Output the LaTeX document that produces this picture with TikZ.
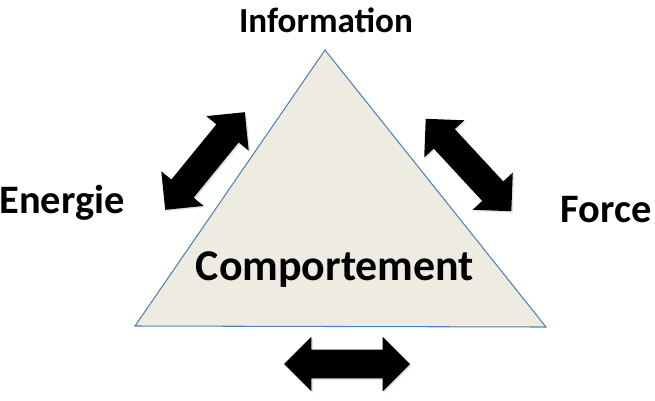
\documentclass[tikz,border=0pt]{standalone}
\usepackage{fontspec}
\setmainfont{Carlito}
\usetikzlibrary{shapes.arrows,shadows}
\definecolor{triFill}{HTML}{EEECE1}
\definecolor{triLine}{HTML}{4F81BD}
\tikzset{
  label/.style={font=\bfseries\fontsize{23}{26}\selectfont, inner sep=0pt},
  dblarrow/.style={double arrow, fill=black, draw=none, inner sep=0.28cm,
    minimum height=2.52cm, minimum width=1.08cm,
    double arrow head extend=0.26cm, double arrow tip angle=90,
    drop shadow={opacity=0.25, shadow xshift=0.8pt, shadow yshift=-0.8pt}}
}
\begin{document}
\begin{tikzpicture}[x=0.02cm,y=-0.02cm]
\useasboundingbox (0,0) rectangle (655,400);
% triangle
\coordinate (top) at (325,50);
\coordinate (bl) at (135,326);
\coordinate (br) at (546,327);
\filldraw[fill=triFill, draw=triLine, line width=0.6pt] (top) -- (bl) -- (br) -- cycle;

\node[label, font=\bfseries\fontsize{20}{24}\selectfont] (info) at (326,20) {Information};
\node[label] (energie) at (62,203) {Energie};
\node[label] (force) at (606,210) {Force};
\node[label, font=\bfseries\fontsize{25}{28}\selectfont] (comp) at (335,270) {Comportement};

% arrows
\node[dblarrow, rotate=50.8] (arrL) at (205,161) {};
\node[dblarrow, rotate=-47.2] (arrR) at (468.5,165) {};
\node[dblarrow] (arrB) at (347,364) {};
\end{tikzpicture}
\end{document}
